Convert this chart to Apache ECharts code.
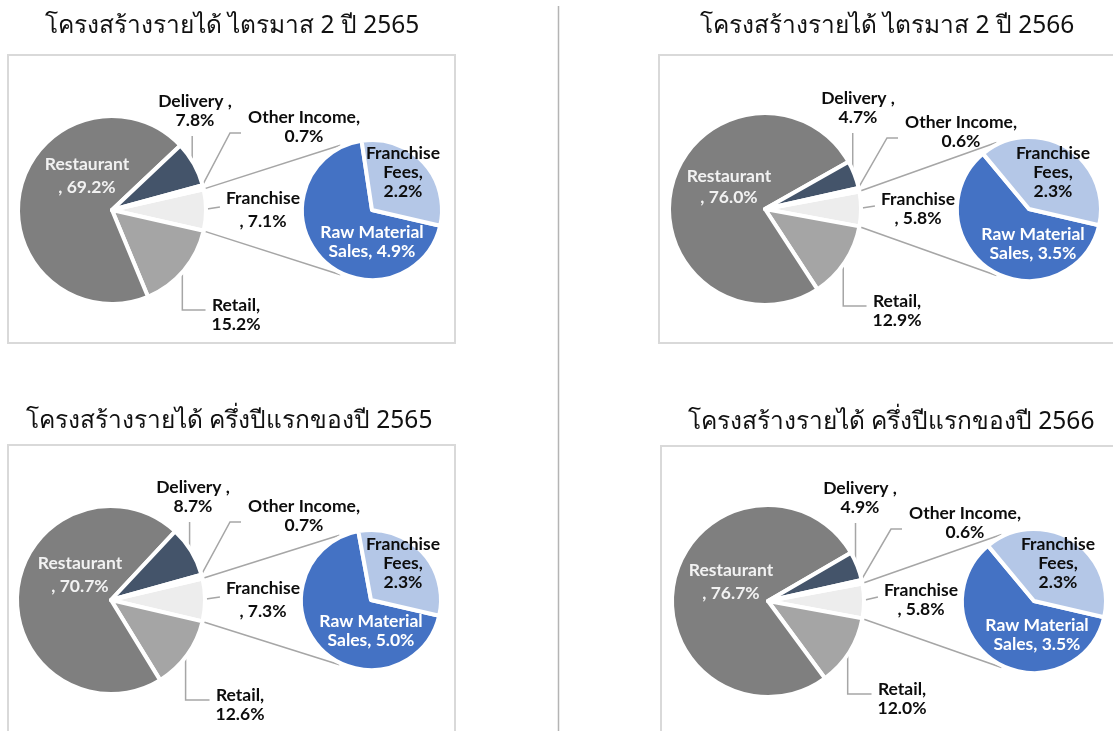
<!DOCTYPE html>
<html><head><meta charset="utf-8">
<script src="https://cdn.jsdelivr.net/npm/echarts@6/dist/echarts.min.js"></script>
<style>html,body{margin:0;padding:0;background:#fff}#c{width:1113px;height:731px}</style>
</head><body><div id="c"></div>
<script>
// ---------- DATA ----------
const chartTitles = [
  'โครงสร้างรายได้ ไตรมาส 2 ปี 2565',
  'โครงสร้างรายได้ ไตรมาส 2 ปี 2566',
  'โครงสร้างรายได้ ครึ่งปีแรกของปี 2565',
  'โครงสร้างรายได้ ครึ่งปีแรกของปี 2566'
];
const mainCategories = ['Franchise', 'Retail', 'Restaurant', 'Delivery', 'Other Income'];
const mainQ2_2565 = [7.1, 15.2, 69.2, 7.8, 0.7];
const mainQ2_2566 = [5.8, 12.9, 76.0, 4.7, 0.6];
const mainH1_2565 = [7.3, 12.6, 70.7, 8.7, 0.7];
const mainH1_2566 = [5.8, 12.0, 76.7, 4.9, 0.6];
const subCategories = ['Raw Material Sales', 'Franchise Fees'];
const subQ2_2565 = [4.9, 2.2];
const subQ2_2566 = [3.5, 2.3];
const subH1_2565 = [5.0, 2.3];
const subH1_2566 = [3.5, 2.3];

const mainSets = [mainQ2_2565, mainQ2_2566, mainH1_2565, mainH1_2566];
const subSets = [subQ2_2565, subQ2_2566, subH1_2565, subH1_2566];

// ---------- LAYOUT (positions / sizes) ----------
const panels = [
  { title: [232, 26], box: [8, 55, 447, 288],
    main: { c: [112, 210], r: 92 }, sub: { c: [372, 210], r: 68 },
    labels: { Restaurant: [87, 176], Delivery: [195, 111], 'Other Income': [304, 127], Franchise: [263, 210], Retail: [236, 315],
              'Franchise Fees': [403, 172], 'Raw Material Sales': [372, 242] },
    lh: { Restaurant: 23, Franchise: 23 } },
  { title: [887, 26], box: [659, 55, 470, 288],
    main: { c: [765, 209], r: 94 }, sub: { c: [1029, 209], r: 70 },
    labels: { Restaurant: [729, 187], Delivery: [858, 108], 'Other Income': [961, 132], Franchise: [918, 209], Retail: [897, 311],
              'Franchise Fees': [1053, 172], 'Raw Material Sales': [1033, 244] },
    lh: { Restaurant: 21, Franchise: 19 } },
  { title: [229, 421], box: [8, 445, 447, 300],
    main: { c: [111, 600], r: 92 }, sub: { c: [371, 600], r: 68 },
    labels: { Restaurant: [80, 575], Delivery: [193, 497], 'Other Income': [304, 516], Franchise: [263, 600], Retail: [240, 705],
              'Franchise Fees': [403, 563], 'Raw Material Sales': [371, 631] },
    lh: { Restaurant: 23, Franchise: 23 } },
  { title: [891, 422], box: [661, 446, 470, 300],
    main: { c: [768, 601], r: 94 }, sub: { c: [1034, 601], r: 70 },
    labels: { Restaurant: [731, 582], Delivery: [860, 498], 'Other Income': [965, 523], Franchise: [921, 600], Retail: [902, 699],
              'Franchise Fees': [1058, 563], 'Raw Material Sales': [1037, 635] },
    lh: { Restaurant: 23, Franchise: 19 } }
];

const mainColors = { Franchise: '#ededed', Retail: '#a5a5a5', Restaurant: '#7f7f7f', Delivery: '#44546a', 'Other Income': '#ffffff' };
const subColors = { 'Raw Material Sales': '#4472c4', 'Franchise Fees': '#b4c7e7' };
const GAP = 4;
const SUB_START = 347;
const LINE_COLOR = '#a6a6a6';
const FONT = 'Lato, "Open Sans", "Liberation Sans", sans-serif';
const LABEL_SIZE = 17.5;

const pct = v => v.toFixed(1) + '%';
const mainLabelText = {
  Restaurant: (n, v) => n + '\n, ' + pct(v),
  Delivery: (n, v) => n + ' ,\n' + pct(v),
  'Other Income': (n, v) => n + ',\n' + pct(v),
  Franchise: (n, v) => n + '\n, ' + pct(v),
  Retail: (n, v) => n + ',\n' + pct(v)
};
const subLabelText = {
  'Raw Material Sales': (n, v) => n.replace(/ (\S+)$/, '\n$1') + ', ' + pct(v),
  'Franchise Fees': (n, v) => n.replace(' ', '\n') + ',\n' + pct(v)
};

function arcPt(c, r, deg) {
  const a = deg * Math.PI / 180;
  return [c[0] + r * Math.cos(a), c[1] - r * Math.sin(a)];
}
function sliceAngles(values, start) {
  const tot = values.reduce((s, v) => s + v, 0);
  let cur = start; const out = [];
  values.forEach(v => { const sweep = v / tot * 360; out.push({ s: cur, e: cur - sweep, m: cur - sweep / 2 }); cur -= sweep; });
  return out;
}

const series = [];
const graphics = [];

// separator
graphics.push({ type: 'line', shape: { x1: 558.5, y1: 6, x2: 558.5, y2: 731 }, style: { stroke: '#b4b4b4', lineWidth: 1.5 }, z: 0 });

panels.forEach((p, i) => {
  const vals = mainSets[i];
  const subs = subSets[i];
  const tot = vals.reduce((s, v) => s + v, 0);
  const mainStart = vals[0] / tot * 180;
  const ang = sliceAngles(vals, mainStart);

  graphics.push({ type: 'rect', shape: { x: p.box[0], y: p.box[1], width: p.box[2], height: p.box[3] },
    style: { fill: 'none', stroke: '#d9d9d9', lineWidth: 2 }, z: 0 });
  graphics.push({ type: 'text', x: p.title[0], y: p.title[1],
    style: { text: chartTitles[i], fill: '#111', font: '24.5px "Noto Sans", "DejaVu Sans", sans-serif', textAlign: 'center', textVerticalAlign: 'middle' }, z: 5 });

  // connector lines (from Franchise slice edges to secondary pie)
  const top1 = arcPt(p.main.c, p.main.r, ang[0].s);
  const bot1 = arcPt(p.main.c, p.main.r, ang[0].e);
  const top2 = arcPt(p.sub.c, p.sub.r + 4, 116);
  const bot2 = arcPt(p.sub.c, p.sub.r + 4, -116);
  graphics.push({ type: 'line', shape: { x1: top1[0], y1: top1[1], x2: top2[0], y2: top2[1] }, style: { stroke: LINE_COLOR, lineWidth: 1.5 }, z: 1 });
  graphics.push({ type: 'line', shape: { x1: bot1[0], y1: bot1[1], x2: bot2[0], y2: bot2[1] }, style: { stroke: LINE_COLOR, lineWidth: 1.5 }, z: 1 });

  series.push({
    type: 'pie', center: p.main.c, radius: p.main.r + GAP / 2, startAngle: mainStart, clockwise: true,
    avoidLabelOverlap: false, silent: true, animation: false, z: 3,
    itemStyle: { borderColor: '#fff', borderWidth: GAP },
    label: { show: true, position: 'outside', fontFamily: FONT, fontWeight: 'bold', fontSize: LABEL_SIZE, color: '#0d0d0d', lineHeight: 19,
      formatter: prm => mainLabelText[prm.name](prm.name, prm.value) },
    labelLine: { show: true, lineStyle: { color: LINE_COLOR, width: 1.5 } },
    data: mainCategories.map((n, k) => {
      const d = { name: n, value: vals[k], itemStyle: { color: mainColors[n] } };
      if (n === 'Restaurant') d.label = { position: 'inside', color: '#f2f2f2', lineHeight: p.lh.Restaurant };
      if (n === 'Restaurant') d.labelLine = { show: false };
      if (n === 'Franchise') d.label = { lineHeight: p.lh.Franchise };
      return d;
    }),
    labelLayout: prm => {
      const n = mainCategories[prm.dataIndex];
      const [lx, ly] = p.labels[n];
      const w = prm.labelRect.width, h = prm.labelRect.height;
      const left = lx - w / 2, bottom = ly + h / 2;
      const a = arcPt(p.main.c, p.main.r, ang[prm.dataIndex].m);
      let pts;
      if (n === 'Delivery') pts = [a, [a[0], a[1] - 2], [a[0], bottom + 6]];
      else if (n === 'Other Income') pts = [a, [left - 18, ly + 6], [left - 7, ly + 6]];
      else if (n === 'Franchise') pts = [[a[0] + 3, a[1] - 1], [a[0] + 3, a[1] - 1], [left - 6, ly - 3]];
      else if (n === 'Retail') pts = [a, [a[0], ly - 5], [left - 6, ly - 5]];
      const res = { x: lx, y: ly, align: 'center', verticalAlign: 'middle' };
      if (pts) res.labelLinePoints = pts;
      return res;
    }
  });

  series.push({
    type: 'pie', center: p.sub.c, radius: p.sub.r + GAP / 2, startAngle: SUB_START, clockwise: true,
    avoidLabelOverlap: false, silent: true, animation: false, z: 3,
    itemStyle: { borderColor: '#fff', borderWidth: GAP },
    label: { show: true, position: 'inside', fontFamily: FONT, fontWeight: 'bold', fontSize: LABEL_SIZE, lineHeight: 19,
      formatter: prm => subLabelText[prm.name](prm.name, prm.value) },
    labelLine: { show: false },
    data: subCategories.map((n, k) => ({ name: n, value: subs[k], itemStyle: { color: subColors[n] },
      label: { color: n === 'Raw Material Sales' ? '#ffffff' : '#0d0d0d' } })),
    labelLayout: prm => {
      const n = subCategories[prm.dataIndex];
      const [lx, ly] = p.labels[n];
      return { x: lx, y: ly, align: 'center', verticalAlign: 'middle' };
    }
  });
});

const chart = echarts.init(document.getElementById('c'), null, { renderer: 'canvas' });
chart.setOption({ backgroundColor: '#ffffff', animation: false, series: series, graphic: { elements: graphics } });
</script>
</body></html>
